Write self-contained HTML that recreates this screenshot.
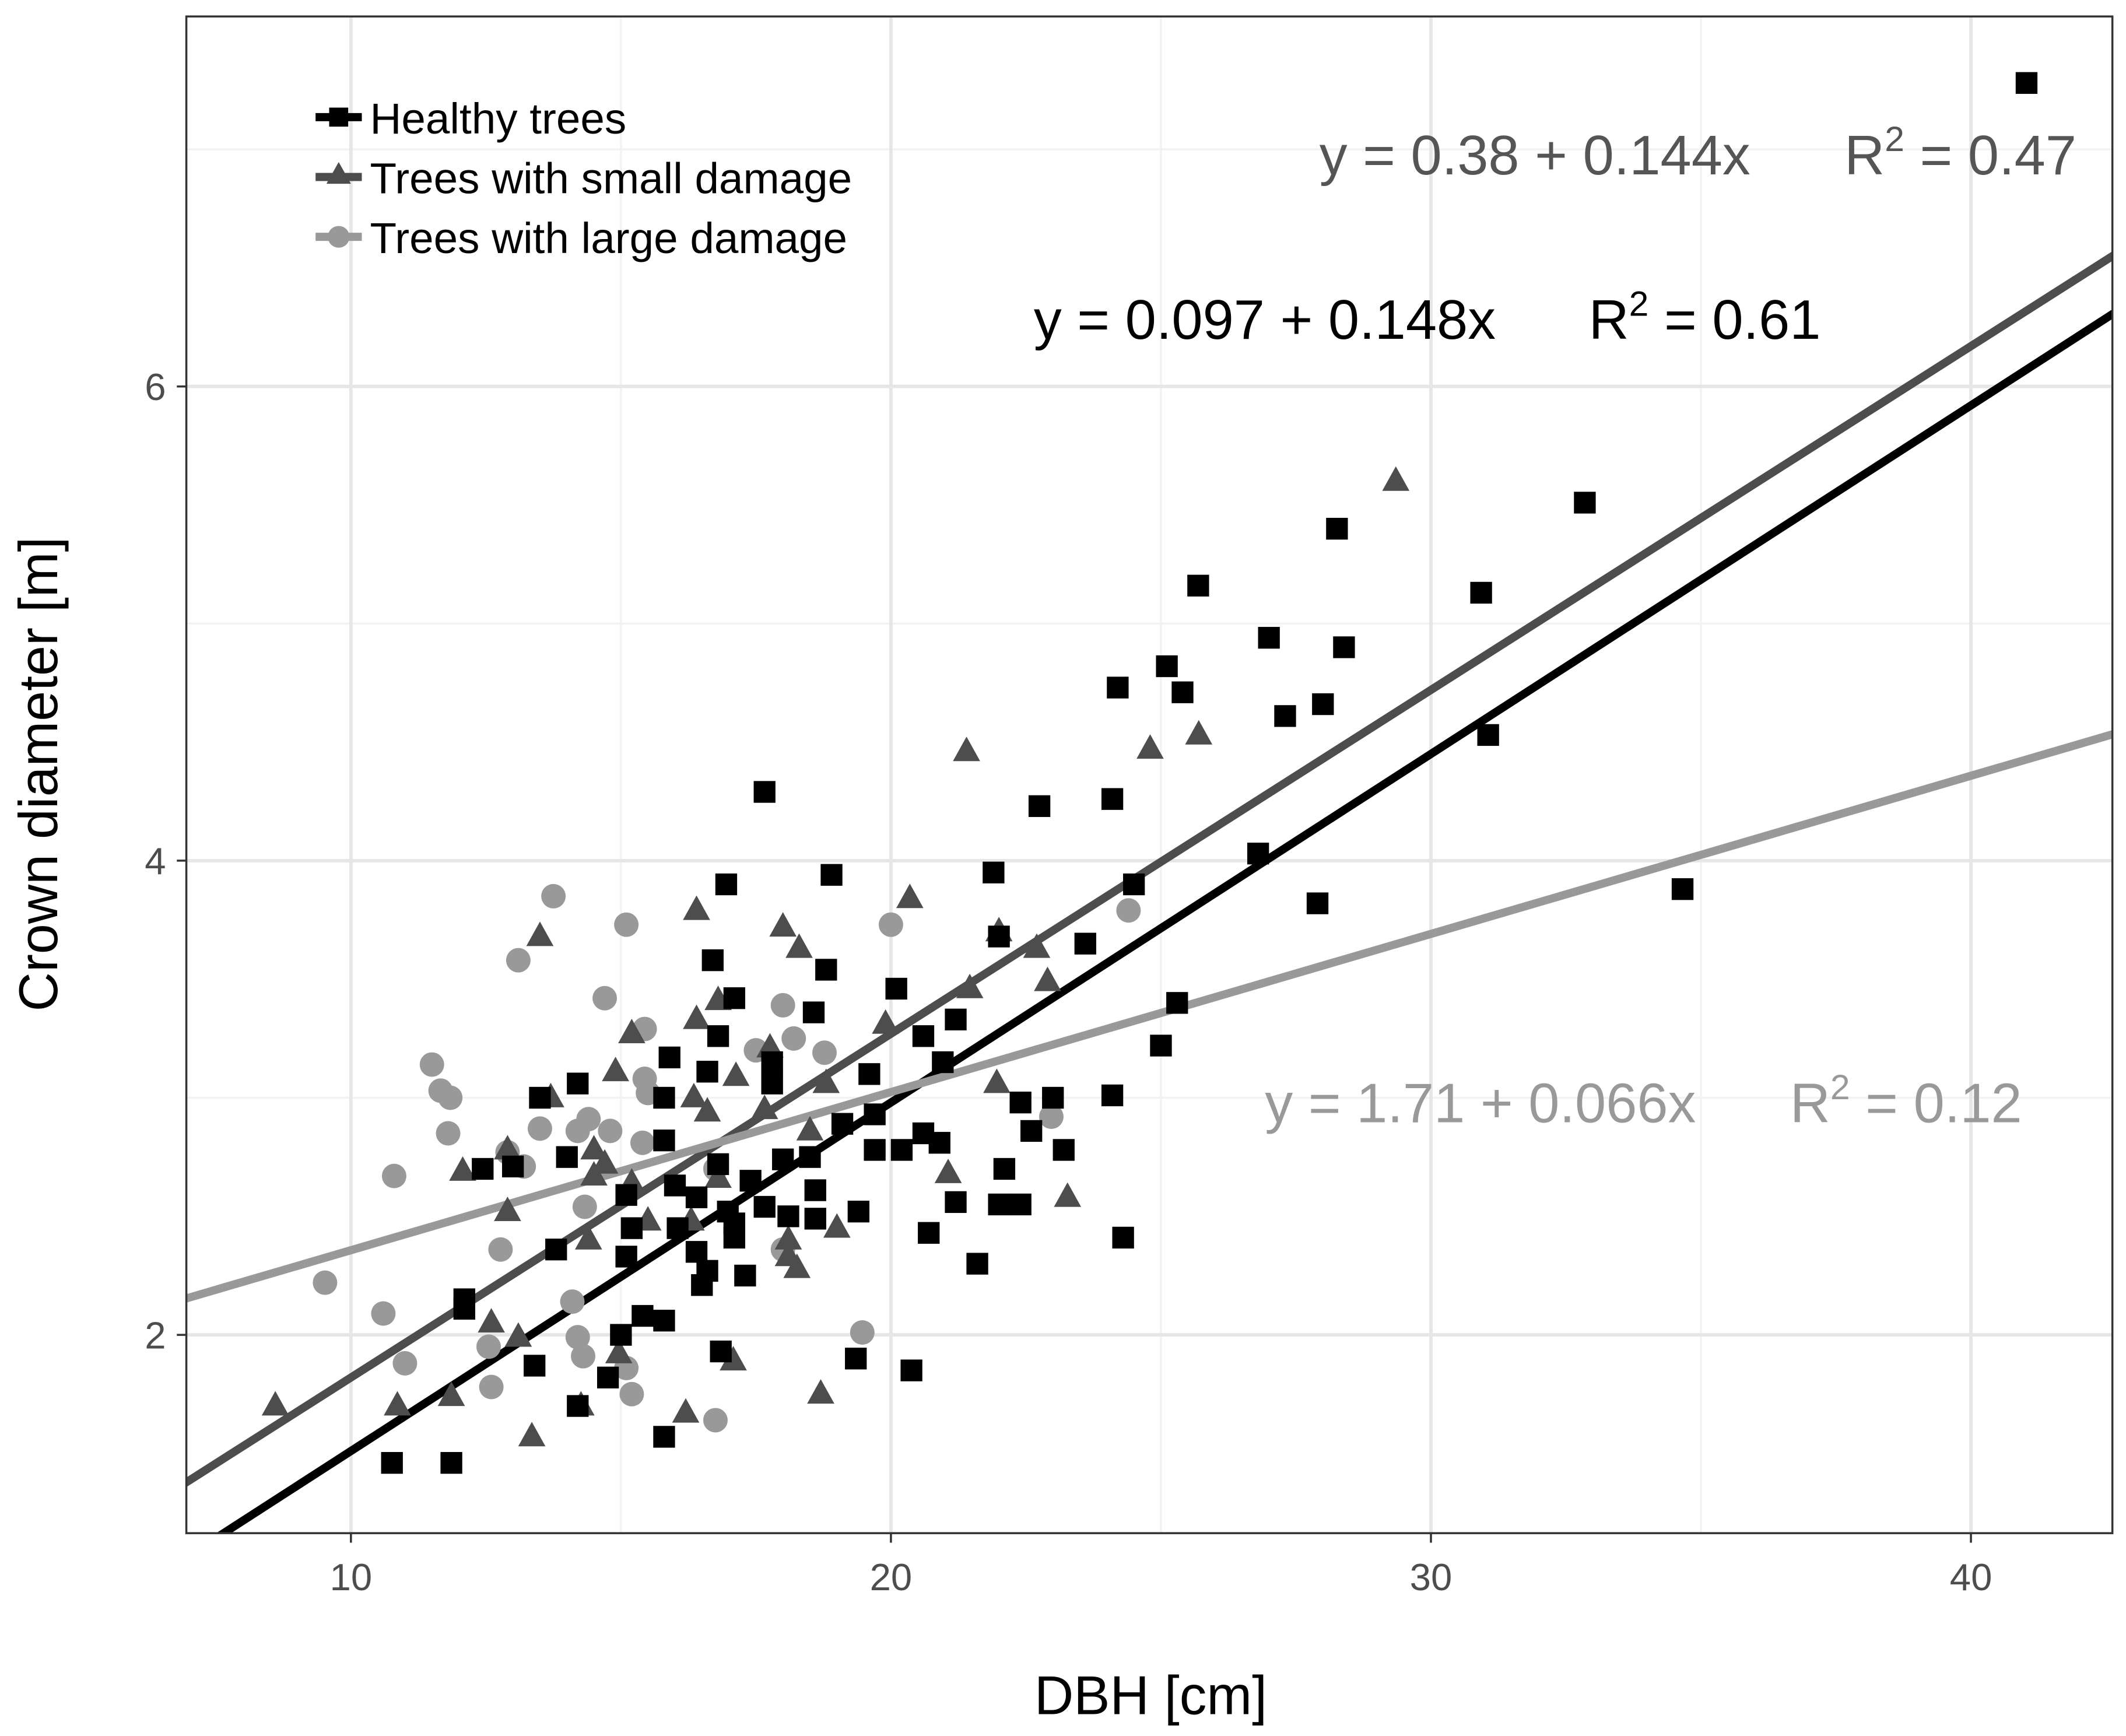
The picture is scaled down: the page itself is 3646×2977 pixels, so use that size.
<!DOCTYPE html>
<html><head><meta charset="utf-8"><style>
html,body{margin:0;padding:0;background:#fff}
svg{display:block}
text{font-family:"Liberation Sans",Arial,sans-serif}
</style></head><body>
<svg id="chart" width="3646" height="2977" viewBox="0 0 1563 1276" xmlns="http://www.w3.org/2000/svg">
<defs><clipPath id="clip"><rect x="137" y="12" width="1416" height="1115"/></clipPath></defs>
<rect x="0" y="0" width="1563" height="1276" fill="#fff"/>
<g id="grid"></g>
<g id="lines" clip-path="url(#clip)"></g>
<g id="points" clip-path="url(#clip)"></g>
<rect x="137" y="12" width="1416" height="1115" fill="none" stroke="#333" stroke-width="1.5"/>
<g id="ticks"></g>
<text x="846" y="1260" font-size="40" text-anchor="middle" fill="#000">DBH [cm]</text>
<text transform="translate(42,569) rotate(-90)" font-size="40" text-anchor="middle" fill="#000">Crown diameter [m]</text>
<g>
 <g><line x1="232" y1="86" x2="266" y2="86" stroke="#000" stroke-width="6"/><rect x="242" y="79" width="14" height="14" fill="#000"/><text x="272" y="98" font-size="32">Healthy trees</text></g>
 <g><line x1="232" y1="130" x2="266" y2="130" stroke="#4d4d4d" stroke-width="6"/><polygon points="249,119 258,135 240,135" fill="#4d4d4d"/><text x="272" y="142" font-size="32">Trees with small damage</text></g>
 <g><line x1="232" y1="174" x2="266" y2="174" stroke="#999" stroke-width="6"/><circle cx="249" cy="174" r="8" fill="#999"/><text x="272" y="186" font-size="32">Trees with large damage</text></g>
</g>
<text x="970" y="128" font-size="41" fill="#555">y = 0.38 + 0.144x<tspan x="1356">R</tspan><tspan dy="-17" font-size="26">2</tspan><tspan dy="17"> = 0.47</tspan></text>
<text x="760" y="249" font-size="41" fill="#000">y = 0.097 + 0.148x<tspan x="1168">R</tspan><tspan dy="-17" font-size="26">2</tspan><tspan dy="17"> = 0.61</tspan></text>
<text x="930" y="825" font-size="41" fill="#999">y = 1.71 + 0.066x<tspan x="1316">R</tspan><tspan dy="-17" font-size="26">2</tspan><tspan dy="17"> = 0.12</tspan></text>
</svg>
<script>
const xTicks=[10,20,30,40];
const yTicks=[2,4,6];
const xMinor=[15,25,35];
const yMinor=[3,5,7];
const healthyX=[41.03,32.85,28.26,25.69,30.93,27.0,28.39,25.11,24.2,25.4,27.3,28.0,31.06,17.66,24.1,22.75,26.8,21.9,18.9,24.5,16.95,34.66,27.9,22.0,23.6,16.7,18.8,17.1,20.1,25.3,18.57,21.2,16.8,20.6,25.0,15.9,20.96,16.6,19.6,17.8,14.2,17.8,13.5,15.8,23.0,24.1,22.4,19.7,19.1,20.6,15.8,22.6,20.9,19.7,20.2,23.2,14.0,18.0,18.5,16.8,12.44,13.0,22.1,17.4,16.0,18.6,15.1,16.4,21.2,22.0,22.4,17.66,16.98,19.4,18.6,18.1,17.1,16.05,15.2,20.7,24.3,17.1,13.8,16.4,15.1,17.3,21.6,16.6,16.5,12.1,12.1,15.4,15.8,15.0,16.85,19.35,13.4,20.38,14.76,14.2,15.8,10.76,11.86];
const healthyY=[7.28,5.51,5.40,5.16,5.13,4.94,4.90,4.82,4.73,4.71,4.61,4.66,4.53,4.29,4.26,4.23,4.03,3.95,3.94,3.90,3.90,3.88,3.82,3.68,3.65,3.58,3.54,3.42,3.46,3.40,3.36,3.33,3.26,3.26,3.22,3.17,3.15,3.11,3.10,3.06,3.06,3.15,3.0,3.0,3.0,3.01,2.98,2.93,2.89,2.85,2.82,2.86,2.81,2.78,2.78,2.78,2.75,2.74,2.75,2.72,2.70,2.71,2.70,2.65,2.63,2.61,2.59,2.58,2.56,2.55,2.55,2.54,2.52,2.52,2.49,2.50,2.47,2.45,2.45,2.43,2.41,2.41,2.36,2.35,2.33,2.25,2.30,2.27,2.21,2.15,2.11,2.08,2.06,2.0,1.93,1.90,1.87,1.85,1.82,1.70,1.57,1.46,1.46];
const smallX=[29.35,21.4,25.7,24.8,20.35,16.4,18.0,13.5,18.3,22.7,22.0,21.46,22.9,16.8,16.4,19.9,15.2,17.76,14.9,17.13,18.8,21.96,13.7,16.35,16.6,17.66,18.5,12.9,14.5,14.7,12.07,21.06,16.8,15.2,14.5,23.27,12.9,15.5,16.3,19.0,14.4,18.1,18.26,18.1,12.6,13.1,14.96,17.08,10.86,11.86,8.6,18.7,16.2,13.35,14.26];
const smallY=[5.60,4.46,4.53,4.47,3.84,3.79,3.72,3.68,3.63,3.63,3.70,3.46,3.49,3.41,3.33,3.31,3.27,3.21,3.11,3.09,3.06,3.06,3.0,3.0,2.94,2.95,2.86,2.78,2.78,2.72,2.69,2.68,2.66,2.64,2.67,2.58,2.52,2.48,2.48,2.45,2.40,2.40,2.28,2.33,2.05,1.99,1.92,1.89,1.70,1.74,1.70,1.75,1.67,1.57,1.70];
const largeX=[13.75,15.1,20.0,13.1,24.4,14.7,18.0,15.44,17.5,18.77,18.2,11.5,11.66,11.84,15.44,15.5,11.8,13.5,14.4,14.2,14.8,12.9,15.4,13.2,10.8,16.75,22.97,14.33,12.77,18.0,9.52,14.1,10.6,12.55,14.2,14.3,19.47,11.0,15.1,12.6,15.2,16.75];
const largeY=[3.85,3.73,3.73,3.58,3.79,3.42,3.39,3.29,3.20,3.19,3.25,3.14,3.03,3.0,3.08,3.02,2.85,2.87,2.91,2.86,2.86,2.77,2.81,2.71,2.67,2.70,2.92,2.54,2.36,2.36,2.22,2.14,2.09,1.95,1.99,1.91,2.01,1.88,1.86,1.78,1.75,1.64];
const intercepts=[0.04,0.37,1.69];
const slopes=[0.147,0.145,0.0667];
const lineColors=['#000','#4d4d4d','#999'];
const lineNames=['fit-line-healthy','fit-line-small-damage','fit-line-large-damage'];
const NS='http://www.w3.org/2000/svg';
function sx(v){return 258+(v-10)*39.7;}
function sy(v){return 284-(v-6)*174.3;}
function mk(tag,attrs,parent){const e=document.createElementNS(NS,tag);for(const k in attrs)e.setAttribute(k,attrs[k]);parent.appendChild(e);return e;}
const grid=document.getElementById('grid'),ticks=document.getElementById('ticks'),lines=document.getElementById('lines'),pts=document.getElementById('points');
xMinor.forEach(v=>{const e=mk('line',{x1:sx(v),x2:sx(v),y1:12,y2:1127,stroke:'#f2f2f2','stroke-width':1.5},grid);

});
yMinor.forEach(v=>{const e=mk('line',{x1:137,x2:1553,y1:sy(v),y2:sy(v),stroke:'#f2f2f2','stroke-width':1.5},grid);

});
xTicks.forEach(v=>{const e=mk('line',{x1:sx(v),x2:sx(v),y1:12,y2:1127,stroke:'#e6e6e6','stroke-width':2.5},grid);


const t=mk('line',{x1:sx(v),x2:sx(v),y1:1127,y2:1134,stroke:'#333','stroke-width':1.5},ticks);


const l=mk('text',{x:sx(v),y:1169,'font-size':28,'text-anchor':'middle',fill:'#4d4d4d'},ticks);l.textContent=v;

});
yTicks.forEach(v=>{const e=mk('line',{x1:137,x2:1553,y1:sy(v),y2:sy(v),stroke:'#e6e6e6','stroke-width':2.5},grid);


const t=mk('line',{x1:130,x2:137,y1:sy(v),y2:sy(v),stroke:'#333','stroke-width':1.5},ticks);


const l=mk('text',{x:122,y:sy(v)+10,'font-size':28,'text-anchor':'end',fill:'#4d4d4d'},ticks);l.textContent=v;

});
const x0=6.9,x1=42.7;
intercepts.forEach((a,i)=>{const b=slopes[i];const e=mk('line',{x1:sx(x0),y1:sy(a+b*x0),x2:sx(x1),y2:sy(a+b*x1),stroke:lineColors[i],'stroke-width':6},lines);

});
largeX.forEach((x,i)=>{const e=mk('circle',{cx:sx(x),cy:sy(largeY[i]),r:9,fill:'#999'},pts);

});
smallX.forEach((x,i)=>{const cx=sx(x),cy=sy(smallY[i]);const e=mk('polygon',{points:(cx)+','+(cy-11)+' '+(cx+10)+','+(cy+7)+' '+(cx-10)+','+(cy+7),fill:'#4d4d4d'},pts);

});
healthyX.forEach((x,i)=>{const e=mk('rect',{x:sx(x)-8,y:sy(healthyY[i])-8,width:16,height:16,fill:'#000'},pts);

});
</script>
</body></html>
